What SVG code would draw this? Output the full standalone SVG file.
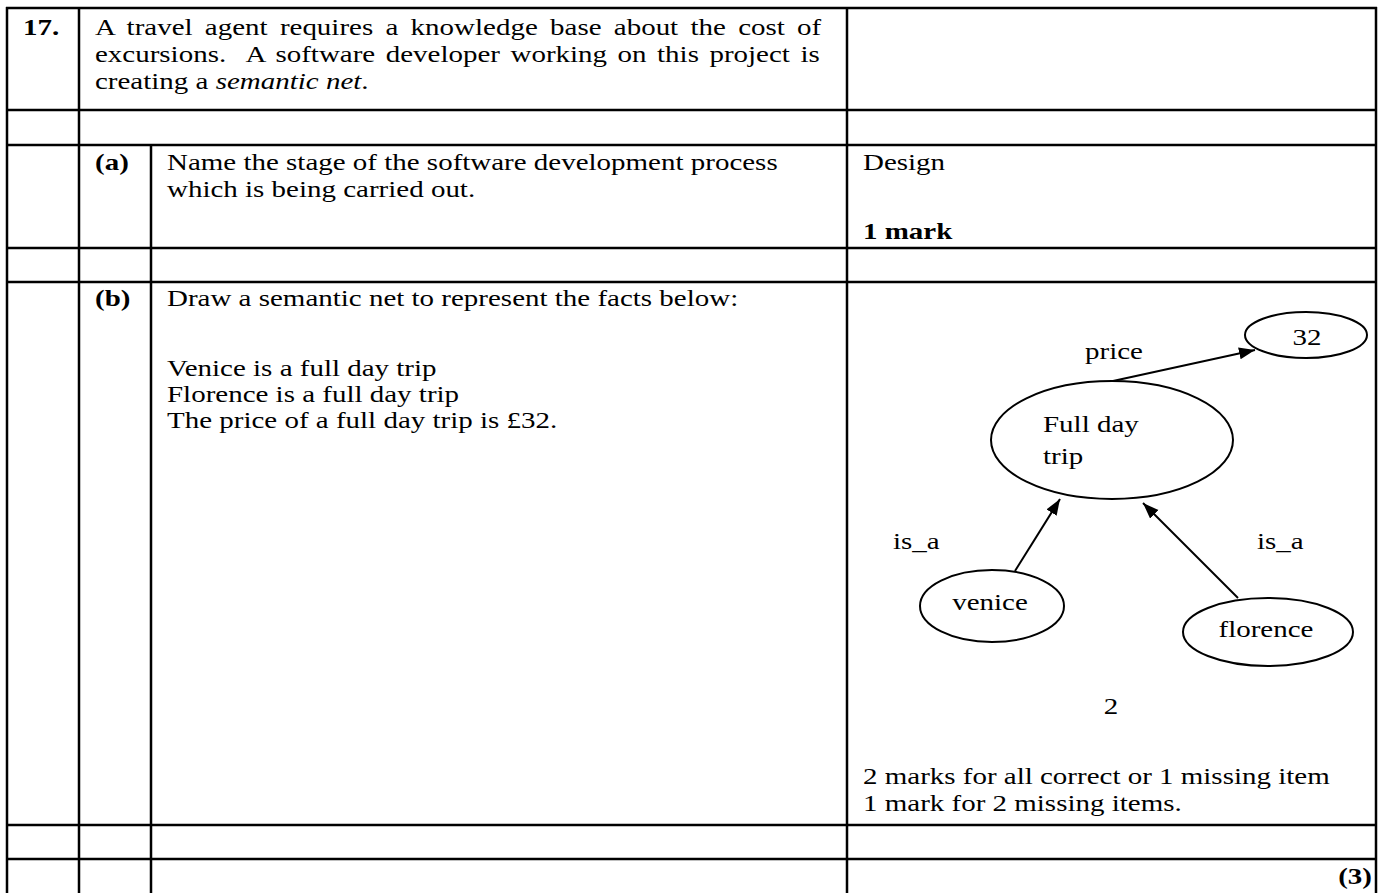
<svg xmlns="http://www.w3.org/2000/svg" width="1383" height="893" viewBox="0 0 1383 893">
<defs>
<style>
.t{font-family:"Liberation Serif","Times New Roman",serif;font-size:23px;fill:#000}
.b{font-weight:bold}
.i{font-style:italic}
.grid line{stroke:#000;stroke-width:2.5}
.node ellipse{fill:none;stroke:#000;stroke-width:2}
.edge{stroke:#000;stroke-width:2;fill:none;marker-end:url(#ah)}
</style>
<marker id="ah" markerUnits="userSpaceOnUse" markerWidth="18" markerHeight="14" refX="16" refY="6" orient="auto"><path d="M0,0 L16,6 L0,12 z" fill="#000"/></marker>
</defs>
<rect width="1383" height="893" fill="#fff"/>
<g id="table" class="grid">
<line x1="6" y1="8" x2="1377" y2="8"/>
<line x1="6" y1="110" x2="1377" y2="110"/>
<line x1="6" y1="145" x2="1377" y2="145"/>
<line x1="6" y1="248" x2="1377" y2="248"/>
<line x1="6" y1="282" x2="1377" y2="282"/>
<line x1="6" y1="825" x2="1377" y2="825"/>
<line x1="6" y1="859" x2="1377" y2="859"/>
<line x1="7" y1="7" x2="7" y2="893"/>
<line x1="79" y1="7" x2="79" y2="893"/>
<line x1="151" y1="145" x2="151" y2="893"/>
<line x1="847" y1="7" x2="847" y2="893"/>
<line x1="1376" y1="7" x2="1376" y2="893"/>
</g>
<g id="question">
<text class="t b" transform="translate(23 35) scale(1.26 1)">17.</text>
<text class="t" transform="translate(95 35) scale(1.26 1)" xml:space="preserve"><tspan x="0" y="0" word-spacing="4">A travel agent requires a knowledge base about the cost of</tspan><tspan x="0" y="27" word-spacing="2.6">excursions.  A software developer working on this project is</tspan><tspan x="0" y="54">creating a </tspan><tspan class="i">semantic net</tspan><tspan>.</tspan></text>
<text class="t b" transform="translate(95 170) scale(1.26 1)">(a)</text>
<text class="t" transform="translate(167 170) scale(1.26 1)"><tspan x="0" y="0">Name the stage of the software development process</tspan><tspan x="0" y="27">which is being carried out.</tspan></text>
<text class="t" transform="translate(863 170) scale(1.26 1)">Design</text>
<text class="t b" transform="translate(863 239) scale(1.26 1)">1 mark</text>
<text class="t b" transform="translate(95 306) scale(1.26 1)">(b)</text>
<text class="t" transform="translate(167 306) scale(1.26 1)">Draw a semantic net to represent the facts below:</text>
<text class="t" transform="translate(167 376) scale(1.26 1)"><tspan x="0" y="0">Venice is a full day trip</tspan><tspan x="0" y="26">Florence is a full day trip</tspan><tspan x="0" y="52">The price of a full day trip is £32.</tspan></text>
<text class="t" text-anchor="middle" transform="translate(1111 714) scale(1.26 1)">2</text>
<text class="t" transform="translate(863 784) scale(1.26 1)"><tspan x="0" y="0">2 marks for all correct or 1 missing item</tspan><tspan x="0" y="27">1 mark for 2 missing items.</tspan></text>
<text class="t b" text-anchor="end" transform="translate(1372 884) scale(1.26 1)">(3)</text>
</g>
<g id="connectors">
<line class="edge" x1="1113" y1="381" x2="1255" y2="350"/>
<line class="edge" x1="1015" y1="571" x2="1060" y2="499"/>
<line class="edge" x1="1238" y1="598" x2="1143" y2="503"/>
<text class="t" transform="translate(1085 359) scale(1.26 1)">price</text>
<text class="t" transform="translate(893 549) scale(1.26 1)">is_a</text>
<text class="t" transform="translate(1257 549) scale(1.26 1)">is_a</text>
</g>
<g id="node-32" class="node">
<ellipse cx="1306" cy="335" rx="61" ry="23"/>
<text class="t" text-anchor="middle" transform="translate(1307 345) scale(1.26 1)">32</text>
</g>
<g id="node-fullday" class="node">
<ellipse cx="1112" cy="440" rx="121" ry="59"/>
<text class="t" transform="translate(1043 432) scale(1.26 1)"><tspan x="0" y="0">Full day</tspan><tspan x="0" y="32">trip</tspan></text>
</g>
<g id="node-venice" class="node">
<ellipse cx="992" cy="606" rx="72" ry="36"/>
<text class="t" text-anchor="middle" transform="translate(990 610) scale(1.26 1)">venice</text>
</g>
<g id="node-florence" class="node">
<ellipse cx="1268" cy="632" rx="85" ry="34"/>
<text class="t" text-anchor="middle" transform="translate(1266 637) scale(1.26 1)">florence</text>
</g>
</svg>
